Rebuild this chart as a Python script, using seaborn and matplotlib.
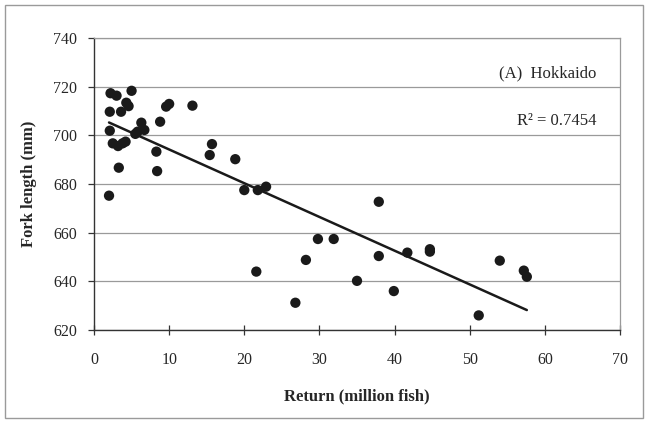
import numpy as np
import pandas as pd
import matplotlib
matplotlib.use("Agg")
import matplotlib.pyplot as plt
import seaborn as sns
from matplotlib.patches import Rectangle

returns = [2.2, 3.0, 5.0, 4.3, 4.6, 2.1, 3.6, 10.0, 9.6, 13.1, 8.8, 6.3, 2.1, 5.8,
           6.7, 5.5, 2.5, 3.2, 4.2, 3.8, 8.3, 15.7, 15.4, 18.8, 3.3, 8.4, 20.0,
           21.8, 22.9, 2.0, 37.9, 29.8, 31.9, 28.2, 21.6, 26.8, 35.0, 37.9, 41.7,
           44.7, 44.7, 39.9, 54.0, 57.2, 57.6, 51.2]
fork_length = [717.3, 716.3, 718.3, 713.4, 712.0, 709.7, 709.7, 712.9, 711.8, 712.2,
               705.6, 705.2, 701.9, 701.5, 702.2, 700.6, 696.7, 695.6, 697.4, 696.7,
               693.3, 696.4, 691.9, 690.2, 686.7, 685.3, 677.5, 677.5, 678.9, 675.2,
               672.7, 657.4, 657.4, 648.8, 644.0, 631.2, 640.2, 650.4, 651.8, 653.2,
               652.2, 636.0, 648.5, 644.4, 641.9, 626.0]
x_ticks = [0, 10, 20, 30, 40, 50, 60, 70]
y_ticks = [620, 640, 660, 680, 700, 720, 740]
panel_label = "(A)  Hokkaido"
r2_label = "R\u00b2 = 0.7454"

df = pd.DataFrame({"ret": returns, "fl": fork_length})

sns.set_theme(style="white")
plt.rcParams["font.family"] = ["Liberation Serif", "DejaVu Serif"]

fig = plt.figure(figsize=(6.48, 4.22), dpi=100)
ax = fig.add_axes([94 / 648, 1 - 330 / 422, (620 - 94) / 648, (330 - 38) / 422])

sns.regplot(data=df, x="ret", y="fl", ax=ax, ci=None,
            scatter_kws=dict(s=55, color="#1a1a1a", edgecolor="none", alpha=1, zorder=3),
            line_kws=dict(color="#1a1a1a", lw=1.8, zorder=4))

ax.set_xlim(0, 70)
ax.set_ylim(620, 740)
ax.set_xticks(x_ticks)
ax.set_yticks(y_ticks)
ax.set_xticklabels([str(t) for t in x_ticks], fontsize=11.5)
ax.set_yticklabels([str(t) for t in y_ticks], fontsize=11.5)
ax.yaxis.grid(True, color="#9a9a9a", lw=0.9)
ax.set_axisbelow(True)
for s in ["top", "right"]:
    ax.spines[s].set_color("#9a9a9a")
    ax.spines[s].set_linewidth(0.9)
for s in ["left", "bottom"]:
    ax.spines[s].set_color("#333333")
    ax.spines[s].set_linewidth(1.0)
ax.tick_params(axis="x", direction="inout", length=7, width=0.9, color="#333333", pad=12)
ax.tick_params(axis="y", direction="out", length=4, width=0.9, color="#333333", pad=8)
ax.tick_params(left=True, bottom=True)

ax.set_xlabel("Return (million fish)", fontsize=12, fontweight="bold", labelpad=15)
ax.set_ylabel("Fork length (mm)", fontsize=12, fontweight="bold", labelpad=12)

ax.text(0.955, 0.88, panel_label, transform=ax.transAxes, ha="right", va="center", fontsize=12)
ax.text(0.955, 0.715, r2_label, transform=ax.transAxes, ha="right", va="center", fontsize=12)

fig.patches.append(Rectangle((5 / 648, 4 / 422), 638 / 648, 413 / 422, transform=fig.transFigure,
                             fill=False, edgecolor="#9a9a9a", lw=1.0))

fig.savefig("out.png", dpi=100)
